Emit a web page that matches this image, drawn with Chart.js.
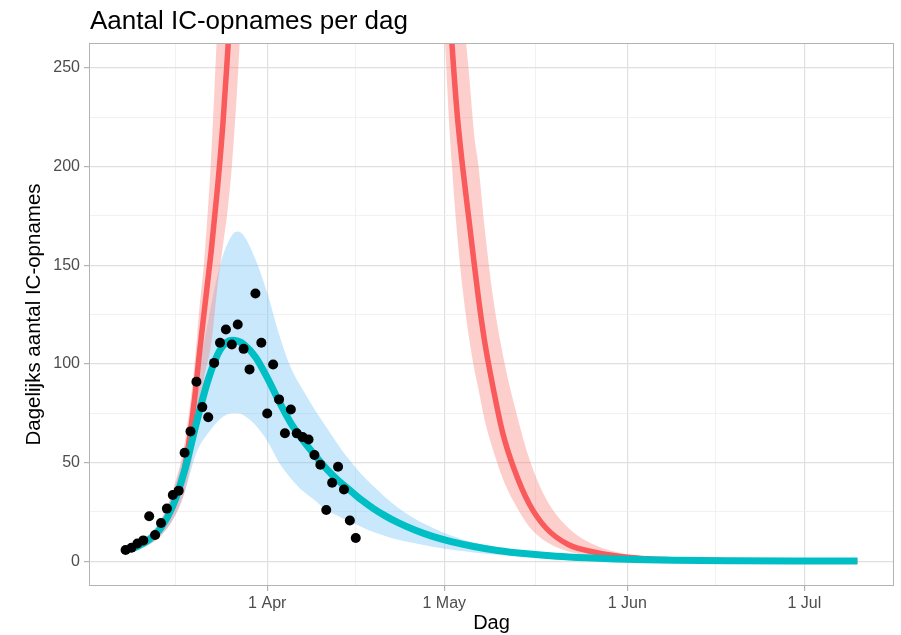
<!DOCTYPE html>
<html>
<head>
<meta charset="utf-8">
<title>Aantal IC-opnames per dag</title>
<script src="https://cdn.jsdelivr.net/npm/chart.js@4.4.1/dist/chart.umd.min.js"></script>
<style>
  html, body { margin: 0; padding: 0; background: #fff; }
  #wrap { width: 901px; height: 635px; }
</style>
</head>
<body>
<div id="wrap"><canvas id="myChart" width="901" height="635"></canvas></div>
<script>
// dagen geteld vanaf 1 maart (1 maart = 0)
const tickDays = [31, 61, 92, 122];
const tickLabels = ["1 Apr", "1 May", "1 Jun", "1 Jul"];
const minorDays = [15.5, 46, 76.5, 107];
const yTicks = [0, 50, 100, 150, 200, 250];
const yMinor = [25, 75, 125, 175, 225];

// waargenomen IC-opnames (zwarte punten)
const obsDays = [7, 8, 9, 10, 11, 12, 13, 14, 15, 16, 17, 18, 19, 20, 21, 22, 23, 24, 25, 26,
  27, 28, 29, 30, 31, 32, 33, 34, 35, 36, 37, 38, 39, 40, 41, 42, 43, 44, 45, 46];
const obsValues = [5.7, 6.9, 9.0, 10.6, 22.8, 13.3, 19.4, 26.7, 33.6, 35.8, 55.0, 65.8, 90.9, 78.1, 73.0, 100.5, 110.7, 117.4, 109.8, 119.9,
  107.6, 97.2, 135.6, 110.7, 74.9, 99.7, 82.0, 64.9, 76.9, 64.8, 62.9, 61.7, 53.8, 48.9, 26.0, 39.8, 47.9, 36.4, 20.7, 11.8];

// model met maatregelen (turquoise lijn + blauwe band)
const fitDays = [7, 9, 11, 13, 15, 17, 19, 21, 23, 25, 26, 27, 29, 31, 33, 35, 37, 39, 41, 43,
  45, 47, 49, 51, 53, 56, 59, 62, 66, 70, 75, 80, 85, 90, 95, 100, 110, 120, 131];
const fitMid = [5.5, 7.5, 11, 17, 28, 46, 70, 92, 107, 112, 111.5, 110, 103.5, 93, 81, 70, 61.5, 54, 47, 41,
  36, 31, 26.7, 23, 19.8, 15.8, 12.6, 10.1, 7.5, 5.5, 3.8, 2.6, 1.8, 1.2, 0.8, 0.55, 0.3, 0.15, 0.1];
const fitLow = [4.5, 6, 8.5, 13, 21, 35, 55, 65, 72, 75, 75, 74, 69, 61, 50, 42, 35.7, 31, 26, 23,
  20, 17.4, 14.8, 12.8, 11, 9.2, 7.4, 6, 4.5, 3.3, 2.3, 1.6, 1.1, 0.7, 0.5, 0.33, 0.18, 0.1, 0.06];
const fitHigh = [6.5, 9, 13.5, 21, 35, 56, 90, 122, 150, 165, 167, 165, 153, 136, 115, 98, 87, 77, 68, 59,
  51, 44, 38, 32.5, 27.5, 21.5, 17, 13.2, 9.4, 6.8, 4.7, 3.3, 2.3, 1.6, 1.1, 0.8, 0.4, 0.2, 0.1];

// scenario zonder maatregelen (rode lijn + roze band), loopt boven de grafiek uit
const scenDays = [7, 9, 11, 13, 15, 17, 18.6, 19.5, 20.3, 21.5, 22.6, 23.5, 24.3, 25, 26.2, 30, 45, 58,
  61.5, 62.3, 63.2, 64.1, 65.1, 66.1, 66.8, 67.8, 69.2, 70.9, 72.8, 75.4, 78.2, 82, 86.7, 91.2, 96, 100, 110, 120, 131];
const scenMid = [5.5, 7.5, 11, 17, 28, 47, 80, 105, 126, 157, 190, 222, 258, 292, 360, 600, 900, 600,
  300, 262, 226, 200, 175, 150, 133, 112, 89, 65, 47, 29, 17, 8.5, 4.5, 2.3, 1.2, 0.8, 0.3, 0.15, 0.1];
const scenLow = [4.5, 6, 8.5, 13, 21, 35, 58, 77, 93, 110, 140, 160, 178, 200, 255, 500, 800, 500,
  240, 200, 165, 138, 115, 97, 87, 72, 57, 42, 30, 17.5, 10, 5, 2.4, 1.2, 0.6, 0.4, 0.15, 0.07, 0.03];
const scenHigh = [6.5, 9, 13.5, 21, 36, 60, 97, 128, 152, 205, 275, 330, 400, 460, 560, 800, 1200, 800,
  400, 350, 310, 280, 250, 215, 200, 170, 135, 105, 80, 52, 32, 17, 8, 4, 2.1, 1.4, 0.6, 0.3, 0.15];

function zip(days, values) {
  return days.map((d, i) => ({ x: d, y: values[i] }));
}

const majorGrid = "#e0e0e0";
const minorGrid = "#eeeeee";
const frameColor = "#b3b3b3";
const fontFamily = "'Liberation Sans', Arial, sans-serif";

const panelPlugin = {
  id: "panel",
  afterDraw(chart) {
    const { ctx, chartArea } = chart;
    ctx.save();
    ctx.strokeStyle = frameColor;
    ctx.lineWidth = 1;
    ctx.strokeRect(chartArea.left + 0.5, chartArea.top + 0.5,
      chartArea.right - chartArea.left - 1, chartArea.bottom - chartArea.top - 1);
    ctx.fillStyle = "#000";
    ctx.font = "26px " + fontFamily;
    ctx.textAlign = "left";
    ctx.textBaseline = "alphabetic";
    ctx.fillText("Aantal IC-opnames per dag", 90, 29);
    ctx.restore();
  }
};

const config = {
  type: "line",
  data: {
    datasets: [
      {
        label: "Waargenomen",
        data: zip(obsDays, obsValues),
        showLine: false,
        pointRadius: 5,
        pointBorderWidth: 0,
        pointBackgroundColor: "#000",
        clip: 0
      },
      {
        label: "Model",
        data: zip(fitDays, fitMid),
        borderColor: "#00BFC4",
        borderWidth: 7,
        pointRadius: 0,
        cubicInterpolationMode: "monotone",
        fill: false,
        clip: 0
      },
      {
        label: "Scenario",
        data: zip(scenDays, scenMid),
        borderColor: "#F95A5C",
        borderWidth: 5.5,
        pointRadius: 0,
        cubicInterpolationMode: "monotone",
        fill: false,
        clip: 0
      },
      {
        label: "Scenario hoog",
        data: zip(scenDays, scenHigh),
        borderWidth: 0,
        pointRadius: 0,
        cubicInterpolationMode: "monotone",
        backgroundColor: "rgba(248, 118, 109, 0.35)",
        fill: "+1",
        clip: 0
      },
      {
        label: "Scenario laag",
        data: zip(scenDays, scenLow),
        borderWidth: 0,
        pointRadius: 0,
        cubicInterpolationMode: "monotone",
        fill: false,
        clip: 0
      },
      {
        label: "Model hoog",
        data: zip(fitDays, fitHigh),
        borderWidth: 0,
        pointRadius: 0,
        cubicInterpolationMode: "monotone",
        backgroundColor: "rgba(100, 190, 245, 0.35)",
        fill: "+1",
        clip: 0
      },
      {
        label: "Model laag",
        data: zip(fitDays, fitLow),
        borderWidth: 0,
        pointRadius: 0,
        cubicInterpolationMode: "monotone",
        fill: false,
        clip: 0
      }
    ]
  },
  options: {
    responsive: false,
    animation: false,
    devicePixelRatio: 1,
    layout: { padding: { left: 22, right: 7, top: 43, bottom: 0 } },
    plugins: {
      legend: { display: false },
      tooltip: { enabled: false }
    },
    scales: {
      x: {
        type: "linear",
        min: 0.8,
        max: 137.2,
        afterBuildTicks: (scale) => {
          scale.ticks = minorDays.concat(tickDays).sort((a, b) => a - b).map((v) => ({ value: v }));
        },
        afterFit: (scale) => { scale.height = 49; },
        ticks: {
          autoSkip: false,
          maxRotation: 0,
          padding: 3,
          color: "#4d4d4d",
          font: { family: fontFamily, size: 16 },
          callback: (value) => {
            const i = tickDays.indexOf(value);
            return i >= 0 ? tickLabels[i] : "";
          }
        },
        grid: {
          color: (ctx) => (tickDays.includes(ctx.tick.value) ? majorGrid : minorGrid),
          lineWidth: (ctx) => (tickDays.includes(ctx.tick.value) ? 1.2 : 0.8),
          tickColor: (ctx) => (tickDays.includes(ctx.tick.value) ? frameColor : "rgba(0,0,0,0)"),
          tickLength: 5
        },
        border: { display: false },
        title: {
          display: true,
          text: "Dag",
          color: "#000",
          padding: { top: 0, bottom: 0 },
          font: { family: fontFamily, size: 20 }
        }
      },
      y: {
        type: "linear",
        min: -12.5,
        max: 262.5,
        afterBuildTicks: (scale) => {
          scale.ticks = yTicks.concat(yMinor).sort((a, b) => a - b).map((v) => ({ value: v }));
        },
        afterFit: (scale) => { scale.width = 67; },
        ticks: {
          autoSkip: false,
          padding: 4,
          color: "#4d4d4d",
          font: { family: fontFamily, size: 16 },
          callback: (value) => (yTicks.includes(value) ? String(value) : "")
        },
        grid: {
          color: (ctx) => (yTicks.includes(ctx.tick.value) ? majorGrid : minorGrid),
          lineWidth: (ctx) => (yTicks.includes(ctx.tick.value) ? 1.2 : 0.8),
          tickColor: (ctx) => (yTicks.includes(ctx.tick.value) ? frameColor : "rgba(0,0,0,0)"),
          tickLength: 5
        },
        border: { display: false },
        title: {
          display: true,
          text: "Dagelijks aantal IC-opnames",
          color: "#000",
          padding: { top: 0, bottom: 0 },
          font: { family: fontFamily, size: 20.5 }
        }
      }
    }
  },
  plugins: [panelPlugin]
};

const myChart = new Chart(document.getElementById("myChart"), config);
</script>
</body>
</html>
